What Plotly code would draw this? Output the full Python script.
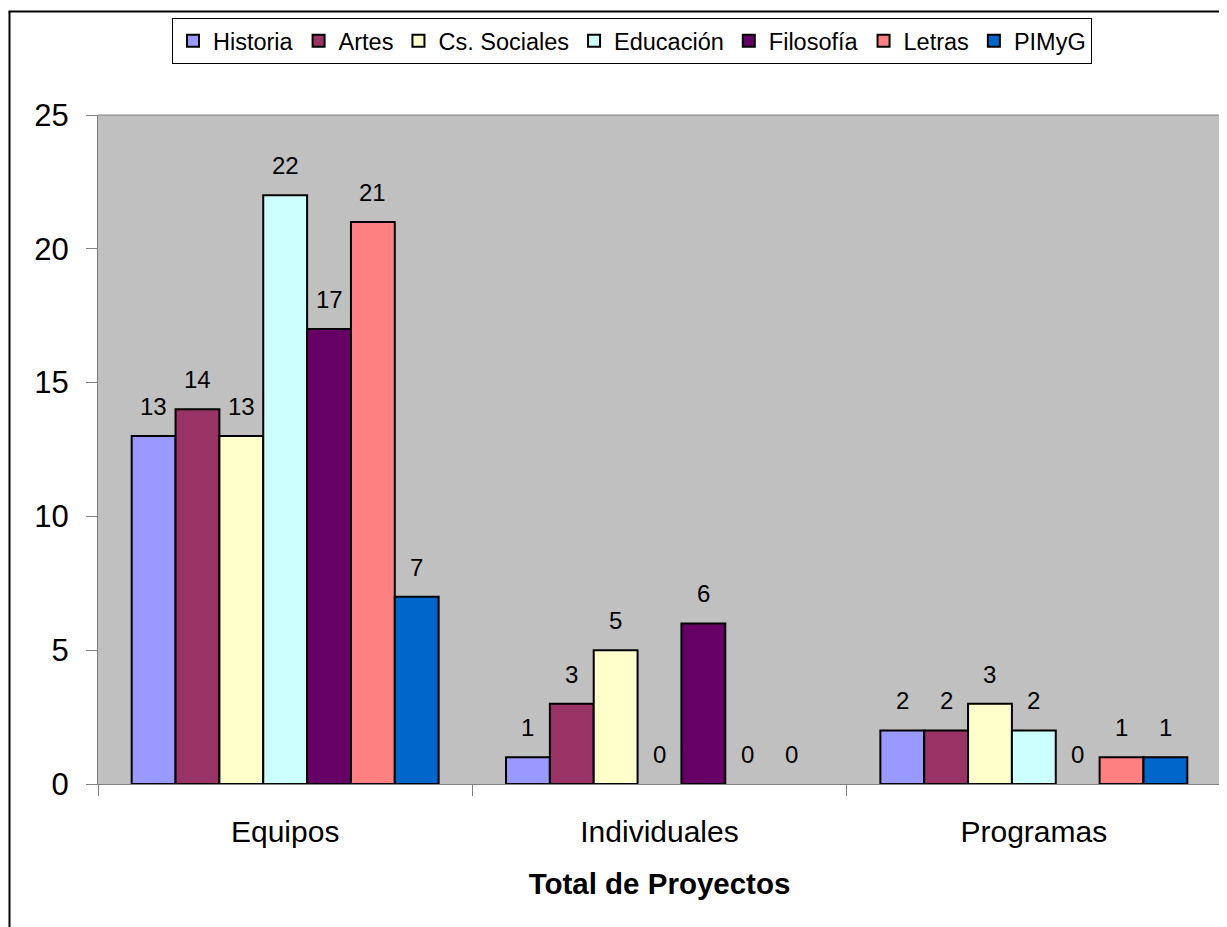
import plotly.graph_objects as go

categories = ["Equipos", "Individuales", "Programas"]
series_names = ["Historia", "Artes", "Cs. Sociales", "Educación", "Filosofía", "Letras", "PIMyG"]
historia = [13, 1, 2]
artes = [14, 3, 2]
cs_sociales = [13, 5, 3]
educacion = [22, 0, 2]
filosofia = [17, 6, 0]
letras = [21, 0, 1]
pimyg = [7, 0, 1]
series_values = [historia, artes, cs_sociales, educacion, filosofia, letras, pimyg]
colors = ["#9999FF", "#993366", "#FFFFCC", "#CCFFFF", "#660066", "#FF8080", "#0066CC"]
y_ticks = [0, 5, 10, 15, 20, 25]

FONT = "Liberation Sans, Arial, sans-serif"
BARGAP = 0.18

fig = go.Figure()
for name, vals, col in zip(series_names, series_values, colors):
    fig.add_trace(go.Bar(
        name=name, x=categories, y=vals,
        marker=dict(color=col, line=dict(color="black", width=[2 if v else 0 for v in vals])),
    ))

# data labels placed through the category axis at each bar's group offset
n = len(series_names)
bw = (1 - BARGAP) / n
annotations = []
for j, vals in enumerate(series_values):
    for i, v in enumerate(vals):
        annotations.append(dict(
            x=i + (j - (n - 1) / 2) * bw, y=v, xref="x", yref="y",
            text=str(v), showarrow=False, yanchor="bottom", xanchor="center",
            yshift=14, font=dict(family=FONT, size=24, color="black"),
        ))

# page has 8px body margin: figure pixel = page pixel - 8
W, H = 1219, 919
L, R, T, B = 90, 6, 107, 143
pw, ph = W - L - R, H - T - B

def px_x(p):
    return (p - L) / pw

def px_y(p):
    return (H - B - p) / ph

fig.update_layout(
    width=W, height=H,
    margin=dict(l=L, r=R, t=T, b=B, pad=0),
    barmode="group", bargap=BARGAP, bargroupgap=0,
    plot_bgcolor="#C0C0C0", paper_bgcolor="white",
    font=dict(family=FONT, color="black"),
    showlegend=True,
    legend=dict(
        orientation="h", x=px_x(624), xanchor="center", y=px_y(10), yanchor="top",
        bordercolor="black", borderwidth=1, bgcolor="white",
        font=dict(family=FONT, size=23.5, color="black"),
        itemwidth=30, tracegroupgap=0,
    ),
    annotations=annotations,
    xaxis=dict(
        showgrid=False, showline=True, linecolor="#808080", linewidth=1,
        ticks="outside", tickson="boundaries", ticklen=11, tickcolor="#808080",
        tickfont=dict(family=FONT, size=30, color="black"),
        ticklabelstandoff=21,
        title=dict(text="<b>Total de Proyectos</b>", font=dict(family=FONT, size=29.5, color="black"), standoff=26),
    ),
    yaxis=dict(
        range=[0, 25], tickvals=y_ticks, showgrid=False, zeroline=False,
        showline=True, linecolor="#808080", linewidth=1,
        ticks="outside", ticklen=11, tickcolor="#808080",
        tickfont=dict(family=FONT, size=31, color="black"),
        ticklabelstandoff=11,
    ),
    shapes=[
        dict(type="line", xref="paper", yref="paper", x0=px_x(1.5), x1=px_x(1.5), y0=px_y(H + 5), y1=px_y(3.5),
             line=dict(color="black", width=2)),
        dict(type="line", xref="paper", yref="paper", x0=px_x(0.5), x1=px_x(W + 5), y0=px_y(3.5), y1=px_y(3.5),
             line=dict(color="black", width=2)),
        dict(type="line", xref="paper", yref="paper", x0=1, x1=1, y0=0, y1=1,
             line=dict(color="#808080", width=1)),
        dict(type="line", xref="paper", yref="paper", x0=0, x1=1, y0=1, y1=1,
             line=dict(color="#808080", width=1)),
    ],
)

fig.write_html("out.html")
